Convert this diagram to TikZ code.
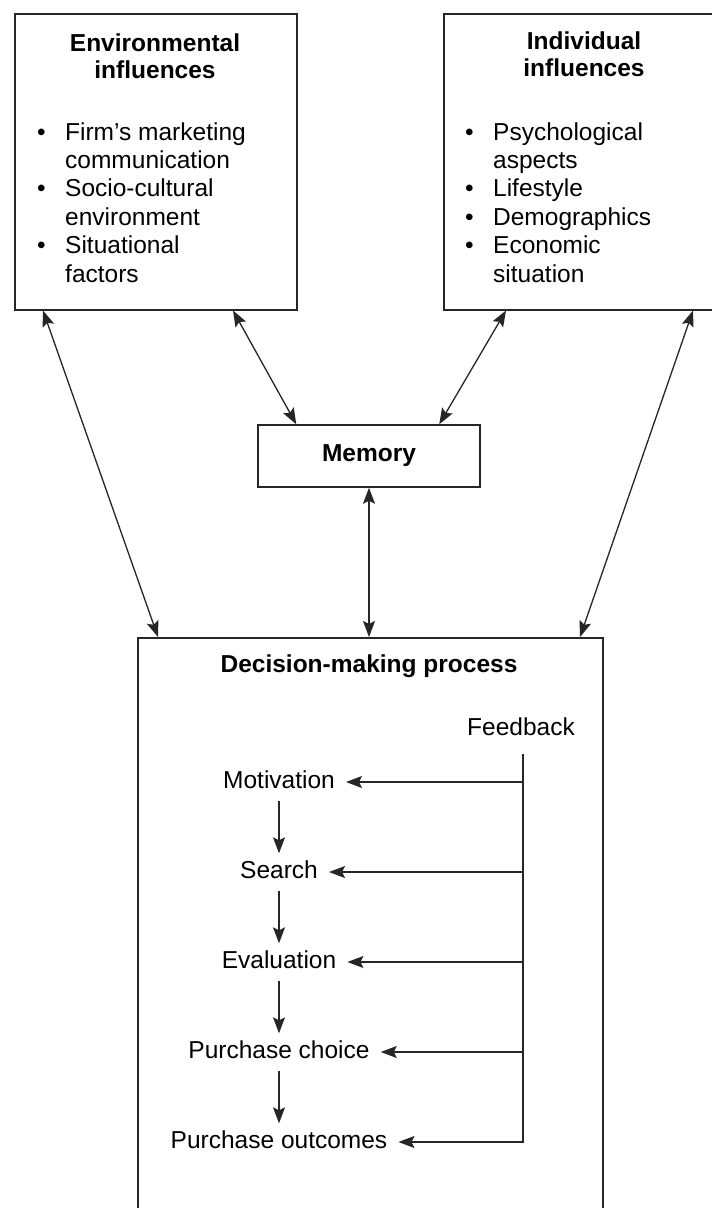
\documentclass[tikz,border=0pt]{standalone}
\usepackage{fontspec}
\setmainfont{Liberation Sans}
\usetikzlibrary{arrows.meta}
\begin{document}
\begin{tikzpicture}[x=1pt,y=-1pt,
  framebox/.style={draw=black!85, line width=1.5pt, inner sep=0pt, anchor=north west},
  influencebox/.style={framebox, minimum width=282pt, minimum height=296pt},
  heading/.style={font=\fontsize{24.5}{27}\selectfont\bfseries, align=center, inner sep=0pt},
  bulletlist/.style={font=\fontsize{24.5}{28.4}\selectfont, anchor=north west, inner sep=0pt},
  stage/.style={font=\fontsize{24.5}{28}\selectfont, text height=18pt, text depth=5pt, inner xsep=11pt, inner ysep=7pt},
  conn/.style={draw=black!85, line width=1.3pt},
  twoway/.style={conn, arrows={Stealth[length=16pt,width=12pt,inset=3pt]-Stealth[length=16pt,width=12pt,inset=3pt]}},
  oneway/.style={conn, arrows={-Stealth[length=16pt,width=12pt,inset=3pt]}}]

% page
\useasboundingbox (0,0) rectangle (712,1208);
\clip (0,0) rectangle (712,1208);
\fill[white] (0,0) rectangle (712,1208);

% influence boxes
\node[influencebox] (env) at (14,13) {};
\node[influencebox] (ind) at (443,13) {};
\node[heading] (envtitle) at (155,56.5) {Environmental\\influences};
\node[heading] (indtitle) at (584,54.5) {Individual\\influences};
\node[bulletlist] (envlist) at (37,120) {%
  \begin{tabular}{@{}p{28pt}@{}l@{}}
  \textbullet & Firm's marketing\\
              & communication\\
  \textbullet & Socio-cultural\\
              & environment\\
  \textbullet & Situational\\
              & factors
  \end{tabular}};
\node[bulletlist] (indlist) at (465,120) {%
  \begin{tabular}{@{}p{28pt}@{}l@{}}
  \textbullet & Psychological\\
              & aspects\\
  \textbullet & Lifestyle\\
  \textbullet & Demographics\\
  \textbullet & Economic\\
              & situation
  \end{tabular}};

% memory
\node[draw=black!85, line width=1.5pt, minimum width=222pt, minimum height=62pt,
      inner sep=0pt, font=\fontsize{24.5}{28}\selectfont\bfseries] (mem) at (369,456) {Memory};

% decision-making process
\node[framebox, minimum width=465pt, minimum height=640pt] (dec) at (137,637) {};
\node[heading] (dectitle) at (369,666) {Decision-making process};
\node[font=\fontsize{24.5}{28}\selectfont, inner sep=0pt] (fb) at (521,727) {Feedback};

\node[stage] (mot) at (279,782) {Motivation};
\node[stage] (sea) at (279,872) {Search};
\node[stage] (eva) at (279,962) {Evaluation};
\node[stage] (cho) at (279,1052) {Purchase choice};
\node[stage] (out) at (279,1142) {Purchase outcomes};

% links between the boxes
\draw[twoway] ([xshift=29pt]env.south west) -- ([xshift=21pt]dec.north west);
\draw[twoway] ([xshift=219pt]env.south west) -- ([xshift=39pt]mem.north west);
\draw[twoway] ([xshift=63pt]ind.south west) -- ([xshift=182pt]mem.north west);
\draw[twoway] ([xshift=250pt]ind.south west) -- ([xshift=443pt]dec.north west);
\draw[twoway] (mem) -- (dec.north -| mem);

% stages of the process
\draw[oneway] (mot) -- (sea);
\draw[oneway] (sea) -- (eva);
\draw[oneway] (eva) -- (cho);
\draw[oneway] (cho) -- (out);

% feedback loop
\coordinate (fbtop) at (523,754);
\draw[oneway] (fbtop) -- (fbtop |- out) -- (out);
\draw[oneway] (fbtop |- mot) -- (mot);
\draw[oneway] (fbtop |- sea) -- (sea);
\draw[oneway] (fbtop |- eva) -- (eva);
\draw[oneway] (fbtop |- cho) -- (cho);
\end{tikzpicture}
\end{document}
